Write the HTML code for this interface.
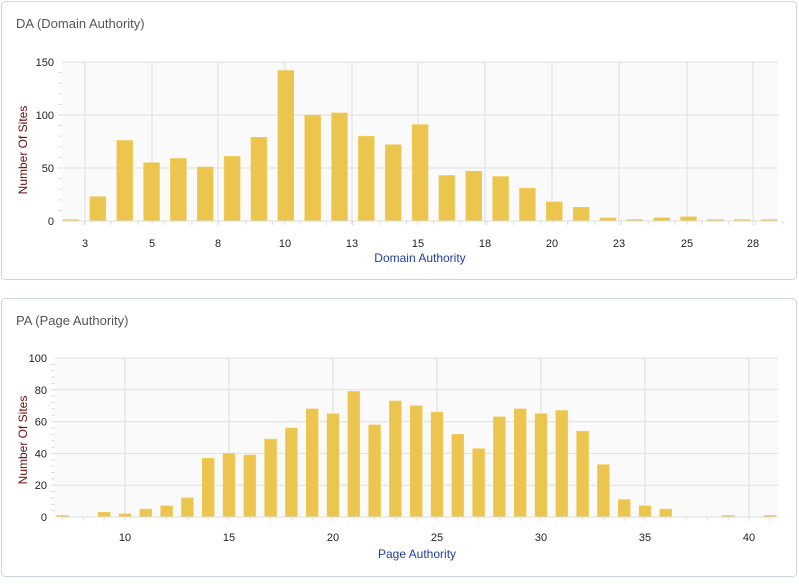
<!DOCTYPE html>
<html><head><style>
body{margin:0;background:#fff;width:799px;height:579px;overflow:hidden;font-family:"Liberation Sans",sans-serif}
</style></head><body>
<svg width="799" height="579" xmlns="http://www.w3.org/2000/svg" font-family="Liberation Sans, sans-serif">
<rect x="1.5" y="1.5" width="795" height="278" rx="4" fill="#fff" stroke="#ccd6e0"/>
<rect x="1.5" y="298.5" width="795" height="278" rx="4" fill="#fff" stroke="#ccd6e0"/>
<text x="16" y="28" font-size="13" fill="#555">DA (Domain Authority)</text>
<text x="16" y="325" font-size="13" fill="#555">PA (Page Authority)</text>
<rect x="62" y="62" width="716" height="159" fill="#fafafa"/>
<rect x="55" y="358" width="723" height="159" fill="#fafafa"/>
<g id="top"></g><g id="bot"></g>
</svg>
<script>
var ns="http://www.w3.org/2000/svg",svg=document.querySelector('svg');
function el(t,a,txt){var e=document.createElementNS(ns,t);for(var k in a)e.setAttribute(k,a[k]);if(txt!=null)e.textContent=txt;svg.appendChild(e);return e;}
// top chart
var L=62,R=778,T=62,B=221;
[0,50,100,150].forEach(function(v){var y=B-v*159/150;el('line',{x1:L,x2:R,y1:y,y2:y,stroke:'#e0e0e0'});el('text',{x:L-8,y:y+4,'text-anchor':'end','font-size':11,fill:'#222'},v);});
for(var i=1;i<15;i++){var y=B-i*10.6;el('line',{x1:L-4,x2:L,y1:y,y2:y,stroke:'#ddd'});}
var tl=[[3,85],[5,152],[8,218],[10,285],[13,352],[15,418],[18,485],[20,552],[23,619],[25,687],[28,753]];
tl.forEach(function(t){el('line',{x1:t[1],x2:t[1],y1:T,y2:B+4,stroke:'#ddd'});el('text',{x:t[1],y:B+26,'text-anchor':'middle','font-size':11,fill:'#222'},t[0]);});
var dv=[1,23,76,55,59,51,61,79,142,100,102,80,72,91,43,47,42,31,18,13,3,1,3,4,1,1,1];
dv.forEach(function(v,i){var x=63+i*26.85,h=Math.max(v*159/150,1.5);el('rect',{x:x,y:B-h,width:16,height:h,fill:'#ecc54f',stroke:'#f2d060','stroke-width':0.5});el('line',{x1:x+21.4,x2:x+21.4,y1:B,y2:B+4,stroke:'#ddd'});});
el('line',{x1:L,x2:R,y1:B,y2:B,stroke:'#ddd'});
el('text',{x:420,y:262,'text-anchor':'middle','font-size':12,fill:'#1f3f9e'},'Domain Authority');
el('text',{x:0,y:0,'text-anchor':'middle','font-size':12,fill:'#6b0f0f',transform:'translate(27,150) rotate(-90)'},'Number Of Sites');
// bottom
L=55;R=778;T=358;B=517;
[0,20,40,60,80,100].forEach(function(v){var y=B-v*1.59;el('line',{x1:L,x2:R,y1:y,y2:y,stroke:'#e0e0e0'});el('text',{x:L-8,y:y+4,'text-anchor':'end','font-size':11,fill:'#222'},v);});
for(var i=1;i<25;i++){var y=B-i*6.36;el('line',{x1:L-4,x2:L,y1:y,y2:y,stroke:'#ddd'});}
function cx(v){return 125+(v-10)*20.8;}
[10,15,20,25,30,35,40].forEach(function(v){var x=cx(v);el('line',{x1:x,x2:x,y1:T,y2:B+4,stroke:'#ddd'});el('text',{x:x,y:B+24,'text-anchor':'middle','font-size':11,fill:'#222'},v);});
var pv={7:1,9:3,10:2,11:5,12:7,13:12,14:37,15:40,16:39,17:49,18:56,19:68,20:65,21:79,22:58,23:73,24:70,25:66,26:52,27:43,28:63,29:68,30:65,31:67,32:54,33:33,34:11,35:7,36:5,39:1,41:1};
for(var v=7;v<=41;v++){var x=cx(v);el('line',{x1:x,x2:x,y1:B,y2:B+4,stroke:'#ddd'});if(pv[v]){var h=Math.max(pv[v]*1.59,1.5);el('rect',{x:x-6,y:B-h,width:12,height:h,fill:'#ecc54f',stroke:'#f2d060','stroke-width':0.5});}}
el('line',{x1:L,x2:R,y1:B,y2:B,stroke:'#ddd'});
el('text',{x:417,y:558,'text-anchor':'middle','font-size':12,fill:'#1f3f9e'},'Page Authority');
el('text',{x:0,y:0,'text-anchor':'middle','font-size':12,fill:'#6b0f0f',transform:'translate(27,440) rotate(-90)'},'Number Of Sites');
</script>
</body></html>
